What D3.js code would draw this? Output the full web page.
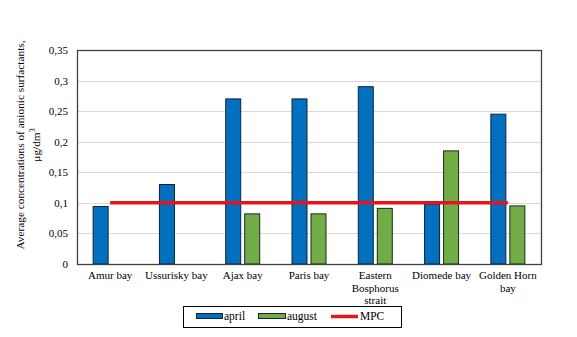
<!DOCTYPE html>
<html>
<head>
<meta charset="utf-8">
<script src="https://cdn.jsdelivr.net/npm/d3@7/dist/d3.min.js"></script>
<style>
  html, body { margin: 0; padding: 0; background: #fff; }
  svg { display: block; }
</style>
</head>
<body>
<svg id="chart" width="577" height="337"></svg>
<script>
// Sites, each label split into display lines
const categories = ["Amur bay", "Ussurisky bay", "Ajax bay", "Paris bay", "Eastern Bosphorus strait", "Diomede bay", "Golden Horn bay"];
const categoryLines = [["Amur bay"], ["Ussurisky bay"], ["Ajax bay"], ["Paris bay"], ["Eastern", "Bosphorus", "strait"], ["Diomede bay"], ["Golden Horn", "bay"]];
// Average anionic surfactant concentrations, µg/dm³ (null = not measured)
const april = [0.094, 0.130, 0.270, 0.270, 0.290, 0.098, 0.245];
const august = [null, null, 0.082, 0.082, 0.091, 0.185, 0.095];
// Maximum permissible concentration
const mpc = 0.1;
const yTicks = [0, 0.05, 0.1, 0.15, 0.2, 0.25, 0.3, 0.35];
const seriesNames = ["april", "august", "MPC"];

const colors = { april: "#0070C0", august: "#70AD47", mpc: "#E8141B" };
const FONT = "'Liberation Serif', 'Times New Roman', serif";

const svg = d3.select("#chart");
const plot = { left: 77, right: 541, top: 50, bottom: 264 };

const x = d3.scaleBand().domain(categories).range([plot.left, plot.right]);
const y = d3.scaleLinear().domain([0, 0.35]).range([plot.bottom, plot.top]);

// Horizontal gridlines
svg.append("g").selectAll("line").data(yTicks.slice(1, -1)).join("line")
  .attr("x1", plot.left).attr("x2", plot.right)
  .attr("y1", d => Math.round(y(d)) + 0.5).attr("y2", d => Math.round(y(d)) + 0.5)
  .attr("stroke", "#d9d9d9").attr("stroke-width", 1);

// Y axis tick labels with comma decimal separator
const fmt = d => String(d).replace(".", ",");
const yAxis = d3.axisLeft(y).tickValues(yTicks).tickFormat(fmt).tickSize(0).tickPadding(9);
const yg = svg.append("g").attr("transform", `translate(${plot.left},0)`).call(yAxis);
yg.attr("font-family", null).attr("font-size", null);
yg.select(".domain").remove();
yg.selectAll("text").style("font-family", FONT).style("font-size", "11px").attr("fill", "#000");

// Bars
const barW = 15, gap = 4;
const rows = categories.map((c, i) => ({ c, a: april[i], g: august[i] }));
const bars = svg.append("g");
bars.selectAll("rect.april").data(rows).join("rect")
  .attr("class", "april")
  .attr("x", d => x(d.c) + x.bandwidth() / 2 - gap / 2 - barW)
  .attr("y", d => y(d.a))
  .attr("width", barW)
  .attr("height", d => y(0) - y(d.a))
  .attr("fill", colors.april).attr("stroke", "#14213a").attr("stroke-width", 1);
bars.selectAll("rect.august").data(rows.filter(d => d.g != null)).join("rect")
  .attr("class", "august")
  .attr("x", d => x(d.c) + x.bandwidth() / 2 + gap / 2)
  .attr("y", d => y(d.g))
  .attr("width", barW)
  .attr("height", d => y(0) - y(d.g))
  .attr("fill", colors.august).attr("stroke", "#1d2a14").attr("stroke-width", 1);

// MPC line from first to last category centre
const line = d3.line().x(d => x(d) + x.bandwidth() / 2).y(() => y(mpc));
svg.append("path").datum(categories).attr("d", line)
  .attr("fill", "none").attr("stroke", colors.mpc).attr("stroke-width", 3.5);

// Plot frame
svg.append("rect")
  .attr("x", plot.left + 0.5).attr("y", plot.top + 0.5)
  .attr("width", plot.right - plot.left).attr("height", plot.bottom - plot.top)
  .attr("fill", "none").attr("stroke", "#404040").attr("stroke-width", 1.3);

// Category labels
const xl = svg.append("g");
categories.forEach((c, i) => {
  const t = xl.append("text")
    .attr("x", x(c) + x.bandwidth() / 2)
    .attr("y", 279)
    .attr("text-anchor", "middle")
    .style("font-family", FONT)
    .style("font-size", "11px");
  categoryLines[i].forEach((ln, k) => {
    t.append("tspan").attr("x", x(c) + x.bandwidth() / 2).attr("dy", k === 0 ? 0 : 12.5).text(ln);
  });
});

// Y axis title
const yt = svg.append("text")
  .attr("transform", "translate(24,145) rotate(-90)")
  .attr("text-anchor", "middle")
  .style("font-family", FONT)
  .style("font-size", "11.3px");
yt.append("tspan").attr("x", 0).attr("dy", 0).text("Average concentrations of anionic surfactants,");
yt.append("tspan").attr("x", 0).attr("dy", 16).text("μg/dm");
yt.append("tspan").attr("dy", -5).style("font-size", "8px").text("3");

// Legend
const lg = svg.append("g");
lg.append("rect").attr("x", 183.5).attr("y", 306.5).attr("width", 218).attr("height", 21)
  .attr("fill", "#fff").attr("stroke", "#000").attr("stroke-width", 1);
const legendItems = [
  { name: seriesNames[0], kind: "rect", color: colors.april, x0: 196, x1: 222 },
  { name: seriesNames[1], kind: "rect", color: colors.august, x0: 258, x1: 285 },
  { name: seriesNames[2], kind: "line", color: colors.mpc, x0: 331, x1: 358 }
];
legendItems.forEach(it => {
  if (it.kind === "rect") {
    lg.append("rect").attr("x", it.x0 + 0.5).attr("y", 313.5).attr("width", it.x1 - it.x0).attr("height", 5)
      .attr("fill", it.color).attr("stroke", "#14213a").attr("stroke-width", 1);
  } else {
    lg.append("line").attr("x1", it.x0).attr("x2", it.x1).attr("y1", 316.5).attr("y2", 316.5)
      .attr("stroke", it.color).attr("stroke-width", 3.5);
  }
  lg.append("text").attr("x", it.x1 + 2).attr("y", 320)
    .style("font-family", FONT).style("font-size", "11.5px").text(it.name);
});
</script>
</body>
</html>
